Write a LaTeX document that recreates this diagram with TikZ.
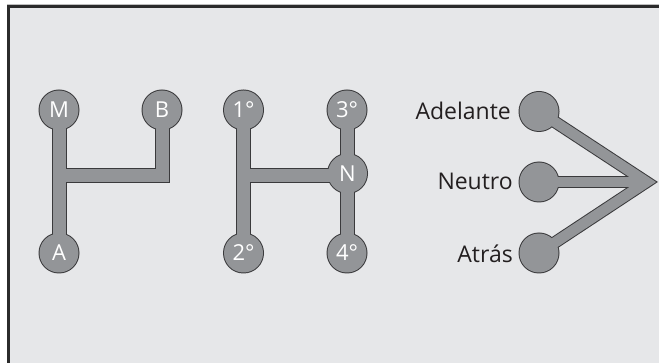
\documentclass[tikz,border=0pt]{standalone}
\usepackage{fontspec}
\setmainfont{Open Sans}
\definecolor{bgc}{HTML}{E6E7E9}
\definecolor{knobgray}{HTML}{939598}
\definecolor{edge}{HTML}{3A3A3C}
\definecolor{framec}{HTML}{2B2B2B}
\definecolor{textdark}{HTML}{231F20}
\pgfdeclarelayer{framelayer}
\pgfdeclarelayer{outline}
\pgfdeclarelayer{inner}
\pgfsetlayers{framelayer,outline,inner,main}
\begin{document}
\begin{tikzpicture}[x=1pt,y=-1pt,
  knob/.style={circle, fill=knobgray, minimum size=39pt, inner sep=0pt, text=white, font=\fontsize{22}{22}\selectfont},
  knobring/.style={fill=edge},
  barout/.style={draw=edge, line width=15pt, line join=miter, line cap=butt},
  barin/.style={draw=knobgray, line width=13pt, line join=miter, line cap=butt},
  vout/.style={draw=edge, line width=12.5pt, line join=miter, line cap=butt},
  vin/.style={draw=knobgray, line width=10.5pt, line join=miter, line cap=butt},
  word/.style={anchor=base east, inner sep=0pt, text=textdark, font=\fontsize{23}{23}\selectfont}]
\useasboundingbox (0,0) rectangle (659,363);

% frame
\begin{pgfonlayer}{framelayer}
\fill[white] (0,0) rectangle (659,363);
\fill[bgc] (10,8) rectangle (659,363);
\fill[black!25] (7,4.5) rectangle (659,5.5);
\fill[framec] (7,5.5) rectangle (659,8);
\fill[framec] (7,5.5) rectangle (9.5,363);
\end{pgfonlayer}

% knobs
\node[knob] (M) at (59,110) {M};
\node[knob] (B) at (162,110) {B};
\node[knob] (A) at (59,253) {A};
\node[knob] (g1) at (243.5,110) {1°};
\node[knob] (g2) at (243.5,253) {2°};
\node[knob] (g3) at (347,110) {3°};
\node[knob] (N) at (347.5,173.5) {N};
\node[knob] (g4) at (347,253) {4°};
\node[knob] (ad) at (539,111.5) {};
\node[knob] (ne) at (539,182) {};
\node[knob] (at) at (539,253) {};

\node[word] (tad) at (511,120) {Adelante};
\node[word] (tne) at (513,190) {Neutro};
\node[word] (tat) at (513,262.5) {Atrás};

\coordinate (J1) at (59,176);
\coordinate (J2) at (244,176);
\coordinate (P) at (646.5,182);

\begin{pgfonlayer}{outline}
\foreach \k in {M,B,A,g1,g2,g3,N,g4,ad,ne,at}{
  \fill[knobring] (\k.center) circle (20.5pt);
}
\draw[barout] (M.center) -- (A.center);
\draw[barout] (J1) -- (J1 -| B.center) -- (B.center);
\draw[barout] (g1.center) -- (g2.center);
\draw[barout] (g3.center) -- (g4.center);
\draw[barout] (J2) -- (J2 -| N.center);
\draw[vout] (ad.center) -- (P) -- (at.center);
\draw[vout] (ne.center) -- (P);
\end{pgfonlayer}

\begin{pgfonlayer}{inner}
\draw[barin] (M.center) -- (A.center);
\draw[barin] (J1) -- (J1 -| B.center) -- (B.center);
\draw[barin] (g1.center) -- (g2.center);
\draw[barin] (g3.center) -- (g4.center);
\draw[barin] (J2) -- (J2 -| N.center);
\draw[vin] (ad.center) -- (P) -- (at.center);
\draw[vin] (ne.center) -- (P);
\end{pgfonlayer}
\end{tikzpicture}
\end{document}
